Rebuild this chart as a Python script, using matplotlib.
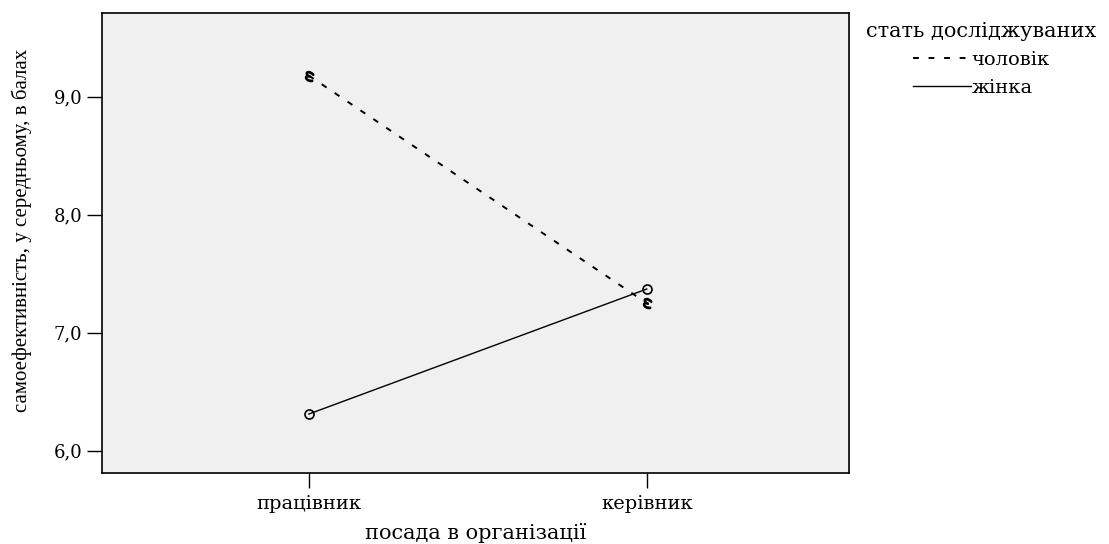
import matplotlib.pyplot as plt
from matplotlib.markers import MarkerStyle
from matplotlib.ticker import FuncFormatter
from matplotlib.transforms import Affine2D

# position categories
positions = ["працівник", "керівник"]
# mean self-efficacy by gender
male_means = [9.18, 7.25]
female_means = [6.31, 7.37]
y_ticks = [6.0, 7.0, 8.0, 9.0]

plt.rcParams["font.family"] = ["DejaVu Serif"]

fig = plt.figure(figsize=(11.09, 5.44), dpi=100)
ax = fig.add_axes([0.092, 0.1305, 0.674, 0.8455])
ax.set_facecolor("#f0f0f0")

x = list(range(1, len(positions) + 1))
male_marker = MarkerStyle("$\u03c9$", transform=Affine2D().rotate_deg(-100))
ax.plot(x, male_means, color="black", linestyle=(0, (3, 5)), linewidth=1.4,
        marker=male_marker, markersize=7, label="чоловік")
ax.plot(x, female_means, color="black", linestyle="-", linewidth=1.0,
        marker="o", markersize=6.5, markerfacecolor="none", markeredgewidth=1.2,
        label="жінка")

ax.set_xlim(0.388, 2.60)
ax.set_ylim(5.81, 9.71)
ax.set_xticks(x)
ax.set_xticklabels(positions)
ax.set_yticks(y_ticks)
ax.yaxis.set_major_formatter(FuncFormatter(lambda v, _: f"{v:.1f}".replace(".", ",")))
ax.tick_params(axis="y", direction="out", length=11, width=1.0, labelsize=13, pad=3)
ax.tick_params(axis="x", direction="out", length=11, width=1.0, labelsize=14, pad=5)
for s in ax.spines.values():
    s.set_linewidth(1.2)

ax.set_xlabel("посада в організації", fontsize=15)
ax.xaxis.set_label_coords(0.5, -0.108)
ax.set_ylabel("самоефективність, у середньому, в балах", fontsize=15,
              family="Liberation Serif")
ax.yaxis.set_label_coords(-0.094, 0.528)

leg = ax.legend(title="стать досліджуваних", loc="upper left",
                bbox_to_anchor=(1.003, 1.012), frameon=False, fontsize=14,
                title_fontsize=15, handlelength=3.0, handletextpad=0.0,
                labelspacing=0.5, borderpad=0.25)
for h in leg.legend_handles:
    h.set_marker("")

fig.savefig("out.png", dpi=100)
